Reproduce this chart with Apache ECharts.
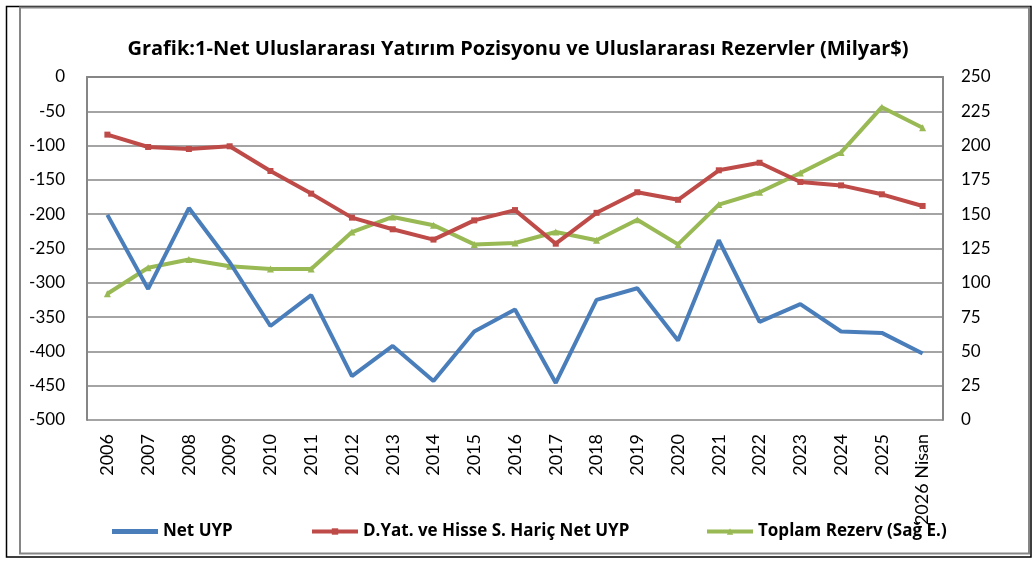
<!DOCTYPE html>
<html>
<head>
<meta charset="utf-8">
<script src="https://cdn.jsdelivr.net/npm/echarts@6/dist/echarts.min.js"></script>
<style>
    html, body { margin: 0; padding: 0; background: #fff; }
    #chart { width: 1036px; height: 562px; }
</style>
</head>
<body>
<div id="chart"></div>
<script type="text/javascript">

    var years = ['2006','2007','2008','2009','2010','2011','2012','2013','2014','2015','2016',
                 '2017','2018','2019','2020','2021','2022','2023','2024','2025','2026 Nisan'];

    var netUyp = [-201,-309,-191,-270,-363,-318,-436,-392,-443,-371,-339,
                  -446,-325,-308,-384,-238,-357,-331,-371,-373,-403];

    var haricNetUyp = [-84,-102,-105,-101,-137,-170,-205,-222,-237,-209,-194,
                       -243,-198,-168,-179,-136,-125,-153,-158,-171,-188];

    var toplamRezerv = [92,111,117,112,110,110,137,148,142,128,129,
                        137,131,146,128,157,166,180,195,228,213];

    var seriesNames = ['Net UYP', 'D.Yat. ve Hisse S. Hariç Net UYP', 'Toplam Rezerv (Sağ E.)'];

    var font = 'Lato';
    var boldFont = 'Open Sans';
    var gridColor = '#868686';

    function legendAt(name, left, h, icon) {
        var lg = {
            data: [icon ? { name: name, icon: icon } : name],
            left: left,
            top: 523,
            padding: 0,
            itemWidth: 46,
            itemHeight: h,
            itemGap: 4,
            lineStyle: { width: 4 },
            textStyle: { fontFamily: boldFont, fontWeight: 'bold', fontSize: 17, color: '#000' }
        };
        return lg;
    }

    var chart = echarts.init(document.getElementById('chart'));
    chart.setOption({
        animation: false,
        backgroundColor: '#fff',
        title: {
            text: 'Grafik:1-Net Uluslararası Yatırım Pozisyonu ve Uluslararası Rezervler (Milyar$)',
            left: 'center',
            top: 34,
            textStyle: { fontFamily: boldFont, fontWeight: 'bold', fontSize: 20, color: '#000' }
        },
        legend: [
            legendAt(seriesNames[0], 112, 5, 'rect'),
            legendAt(seriesNames[1], 310, 8),
            legendAt(seriesNames[2], 705, 8)
        ],
        grid: { left: 87, right: 93, top: 77, bottom: 142 },
        xAxis: {
            type: 'category',
            data: years,
            boundaryGap: true,
            axisLine: { lineStyle: { color: gridColor, width: 2 } },
            axisTick: { show: false },
            axisLabel: { rotate: 90, fontFamily: font, fontSize: 18, color: '#000', margin: 14, interval: 0 }
        },
        yAxis: [
            {
                type: 'value',
                min: -500, max: 0, interval: 50,
                axisLine: { show: true, lineStyle: { color: gridColor, width: 2 } },
                axisTick: { show: false },
                splitLine: { lineStyle: { color: gridColor, width: 1.5 } },
                axisLabel: { fontFamily: font, fontSize: 17, color: '#000', margin: 22 }
            },
            {
                type: 'value',
                min: 0, max: 250, interval: 25,
                axisLine: { show: true, lineStyle: { color: gridColor, width: 2 } },
                axisTick: { show: false },
                splitLine: { show: false },
                axisLabel: { fontFamily: font, fontSize: 17, color: '#000', margin: 18 }
            }
        ],
        series: [
            {
                name: seriesNames[0],
                type: 'line',
                data: netUyp,
                yAxisIndex: 0,
                symbol: 'none',
                lineStyle: { color: '#4A7EBB', width: 4 },
                itemStyle: { color: '#4A7EBB' },
                z: 4
            },
            {
                name: seriesNames[1],
                type: 'line',
                data: haricNetUyp,
                yAxisIndex: 0,
                symbol: 'rect',
                symbolSize: 6,
                lineStyle: { color: '#BE4B48', width: 4 },
                itemStyle: { color: '#BE4B48' },
                z: 3
            },
            {
                name: seriesNames[2],
                type: 'line',
                data: toplamRezerv,
                yAxisIndex: 1,
                symbol: 'triangle',
                symbolSize: 7,
                lineStyle: { color: '#98B954', width: 4 },
                itemStyle: { color: '#98B954' },
                z: 2
            }
        ],
        graphic: [
            {
                type: 'rect',
                shape: { x: 6.5, y: 6.5, width: 1024.5, height: 550.5 },
                style: { fill: 'none', stroke: '#000', lineWidth: 1.5 },
                silent: true
            },
            {
                type: 'rect',
                shape: { x: 20, y: 7.5, width: 1009, height: 546 },
                style: { fill: 'none', stroke: gridColor, lineWidth: 2 },
                silent: true
            }
        ]
    });
</script>
</body>
</html>
